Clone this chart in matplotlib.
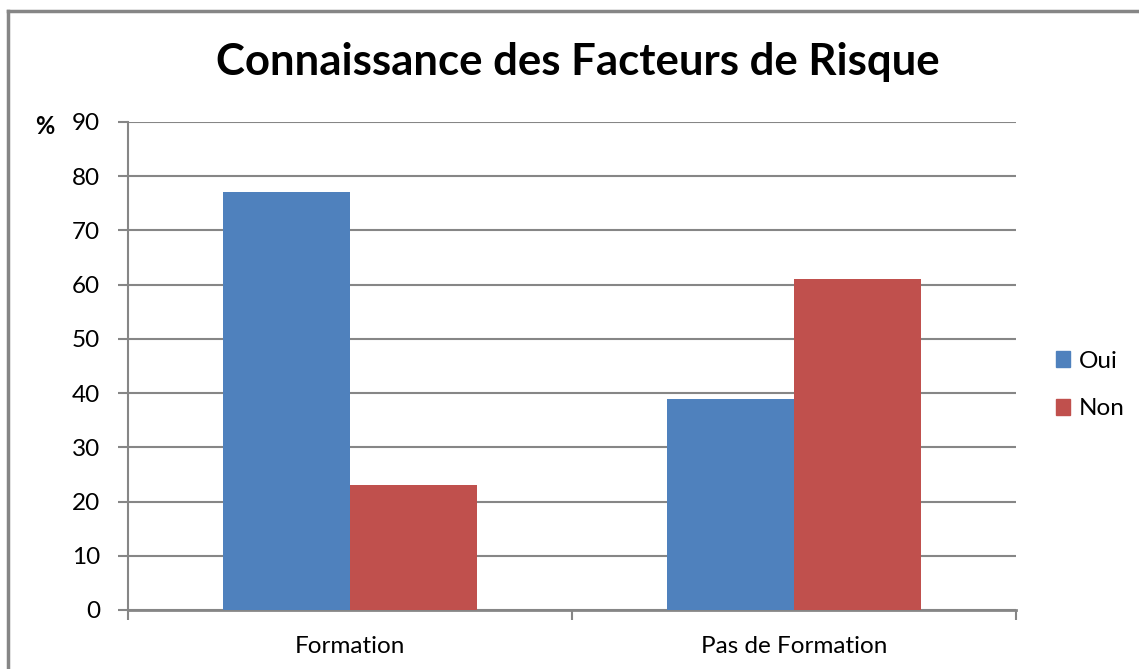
import numpy as np
import matplotlib.pyplot as plt
from matplotlib.lines import Line2D
from matplotlib.patches import Patch

# Donnees
categories = ['Formation', 'Pas de Formation']
series = ['Oui', 'Non']
oui = [77, 39]
non = [23, 61]
couleurs = ['#4F81BD', '#C0504D']
gris = '#868686'

plt.rcParams['font.family'] = ['Lato', 'DejaVu Sans']

fig = plt.figure(figsize=(11.39, 6.69), dpi=100)
ax = fig.add_axes([128/1139, 1-610/669, 888/1139, 488/669])

x = np.arange(len(categories))
w = 1/3.5
ax.bar(x - w/2, oui, w, color=couleurs[0], label=series[0], zorder=3)
ax.bar(x + w/2, non, w, color=couleurs[1], label=series[1], zorder=3)

ax.set_xlim(-0.5, 1.5)
ax.set_ylim(0, 90)
ax.set_yticks(range(0, 91, 10))
ax.yaxis.grid(True, color=gris, linewidth=1.5, zorder=0)
ax.set_xticks([-0.5, 0.5, 1.5])
ax.set_xticklabels([])
ax.set_xticks(x, minor=True)
ax.set_xticklabels(categories, minor=True)
ax.tick_params(axis='x', which='major', length=7, width=1.5, color=gris)
ax.tick_params(axis='x', which='minor', length=0, pad=19, labelsize=17.5)
ax.tick_params(axis='y', length=7, width=1.5, color=gris, pad=13, labelsize=17.5)
for s in ['top', 'right']:
    ax.spines[s].set_visible(False)
ax.spines['left'].set_color(gris)
ax.spines['left'].set_linewidth(1.5)
ax.spines['bottom'].set_color(gris)
ax.spines['bottom'].set_linewidth(2)

fig.text(45/1139, 1-127/669, '%', fontsize=17, fontweight='bold', ha='center', va='center')
fig.text(578/1139, 1-62/669, 'Connaissance des Facteurs de Risque', fontsize=31.5,
         fontweight='bold', ha='center', va='center')

handles = [Patch(color=couleurs[0]), Patch(color=couleurs[1])]
fig.legend(handles, series, loc='center left', bbox_to_anchor=(1034/1139, 1-385/669),
           frameon=False, fontsize=17.5, handlelength=0.6, handleheight=0.6,
           handletextpad=0.35, labelspacing=1.1)

# cadre du graphique (haut et gauche)
fig.add_artist(Line2D([8/1139, 8/1139], [0, 1-11/669], color=gris, linewidth=2.5))
fig.add_artist(Line2D([8/1139, 1], [1-11/669, 1-11/669], color=gris, linewidth=2.5))

plt.savefig('out.png', dpi=100)
plt.close()
